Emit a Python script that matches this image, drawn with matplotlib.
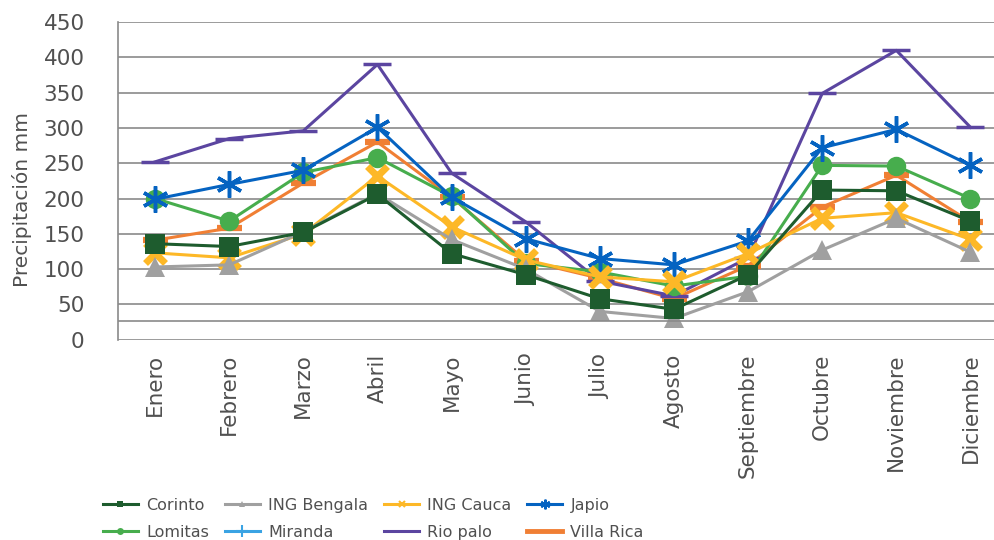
import matplotlib
matplotlib.use("Agg")
import matplotlib.pyplot as plt
from matplotlib.lines import Line2D
import numpy as np

plt.rcParams['font.family'] = ['DejaVu Sans']

meses = ["Enero", "Febrero", "Marzo", "Abril", "Mayo", "Junio", "Julio",
         "Agosto", "Septiembre", "Octubre", "Noviembre", "Diciembre"]

corinto = [136, 132, 152, 206, 122, 92, 58, 43, 92, 212, 211, 168]
ing_bengala = [103, 106, 153, 207, 142, 100, 40, 30, 68, 127, 172, 124]
ing_cauca = [123, 116, 150, 232, 160, 113, 89, 82, 122, 172, 180, 142]
japio = [199, 220, 240, 301, 202, 143, 115, 106, 140, 272, 298, 247]
lomitas = [200, 168, 237, 258, 203, 108, 96, 76, 90, 247, 246, 200]
miranda = [np.nan] * 12
rio_palo = [252, 285, 296, 390, 236, 167, 83, 62, 116, 349, 410, 301]
villa_rica = [141, 158, 222, 280, 202, 112, 87, 58, 105, 188, 233, 167]

x = np.arange(len(meses))
txt = '#505050'

fig = plt.figure(figsize=(9.95, 5.4), dpi=100)
ax = fig.add_axes([0.1186, 0.371, 0.894, 0.588])

# name, values, colour, marker, size, marker edge width, legend marker size
series = [
    ("Corinto", corinto, "#1e5c2e", "s", 14, 0, 5),
    ("ING Bengala", ing_bengala, "#a0a0a0", "^", 15, 0, 5),
    ("ING Cauca", ing_cauca, "#fdb827", "x", 15, 5, 5),
    ("Japio", japio, "#0563c1", (6, 2, 0), 19, 2.5, 7),
    ("Lomitas", lomitas, "#47ad4d", "o", 14, 0, 5),
    ("Miranda", miranda, "#3aa3e3", "+", 14, 2.5, 8),
    ("Rio palo", rio_palo, "#5b45a0", "_", 20, 2.5, 0),
    ("Villa Rica", villa_rica, "#f07f34", "_", 18, 4.5, 0),
]

# draw in reverse so Corinto ends up on top
for name, vals, col, mk, ms, mew, lms in reversed(series):
    ax.plot(x, vals, color=col, lw=2.2, marker=mk, ms=ms, mew=mew)

ax.set_xlim(-0.5, 11.5)
ax.set_ylim(0, 450)
ax.set_yticks(np.arange(0, 451, 50))
ax.grid(axis='y', color='#8a8a8a', lw=1.2)
ax.axhline(27, color='#8a8a8a', lw=1.2)
ax.set_axisbelow(True)
for s in ["top", "right", "bottom"]:
    ax.spines[s].set_visible(False)
ax.spines["left"].set_color('#8a8a8a')
ax.spines["left"].set_linewidth(1.2)
ax.tick_params(axis='both', length=0, colors=txt)
ax.tick_params(axis='y', labelsize=15.5, pad=24)
ax.set_xticks(x)
ax.set_xticklabels(meses, rotation=90, fontsize=15.5)
ax.tick_params(axis='x', pad=10)
ax.set_ylabel("Precipitación mm", fontsize=14.5, color=txt)
ax.yaxis.set_label_coords(-0.097, 0.44)

proxies = {}
for name, vals, col, mk, ms, mew, lms in series:
    lw = 3.5 if name == "Villa Rica" else 2.2
    if lms:
        proxies[name] = Line2D([], [], color=col, lw=lw, marker=mk, ms=lms,
                               mew=1.5 if mew else 0)
    else:
        proxies[name] = Line2D([], [], color=col, lw=lw)

order = ["Corinto", "Lomitas", "ING Bengala", "Miranda",
         "ING Cauca", "Rio palo", "Japio", "Villa Rica"]
leg = fig.legend([proxies[n] for n in order], order, ncol=4,
                 loc='lower left', bbox_to_anchor=(0.089, -0.026),
                 frameon=False, fontsize=11.5,
                 handlelength=2.2, columnspacing=1.0, handletextpad=0.5,
                 labelspacing=0.75)
for t in leg.get_texts():
    t.set_color(txt)

fig.savefig("out.png", dpi=100)
